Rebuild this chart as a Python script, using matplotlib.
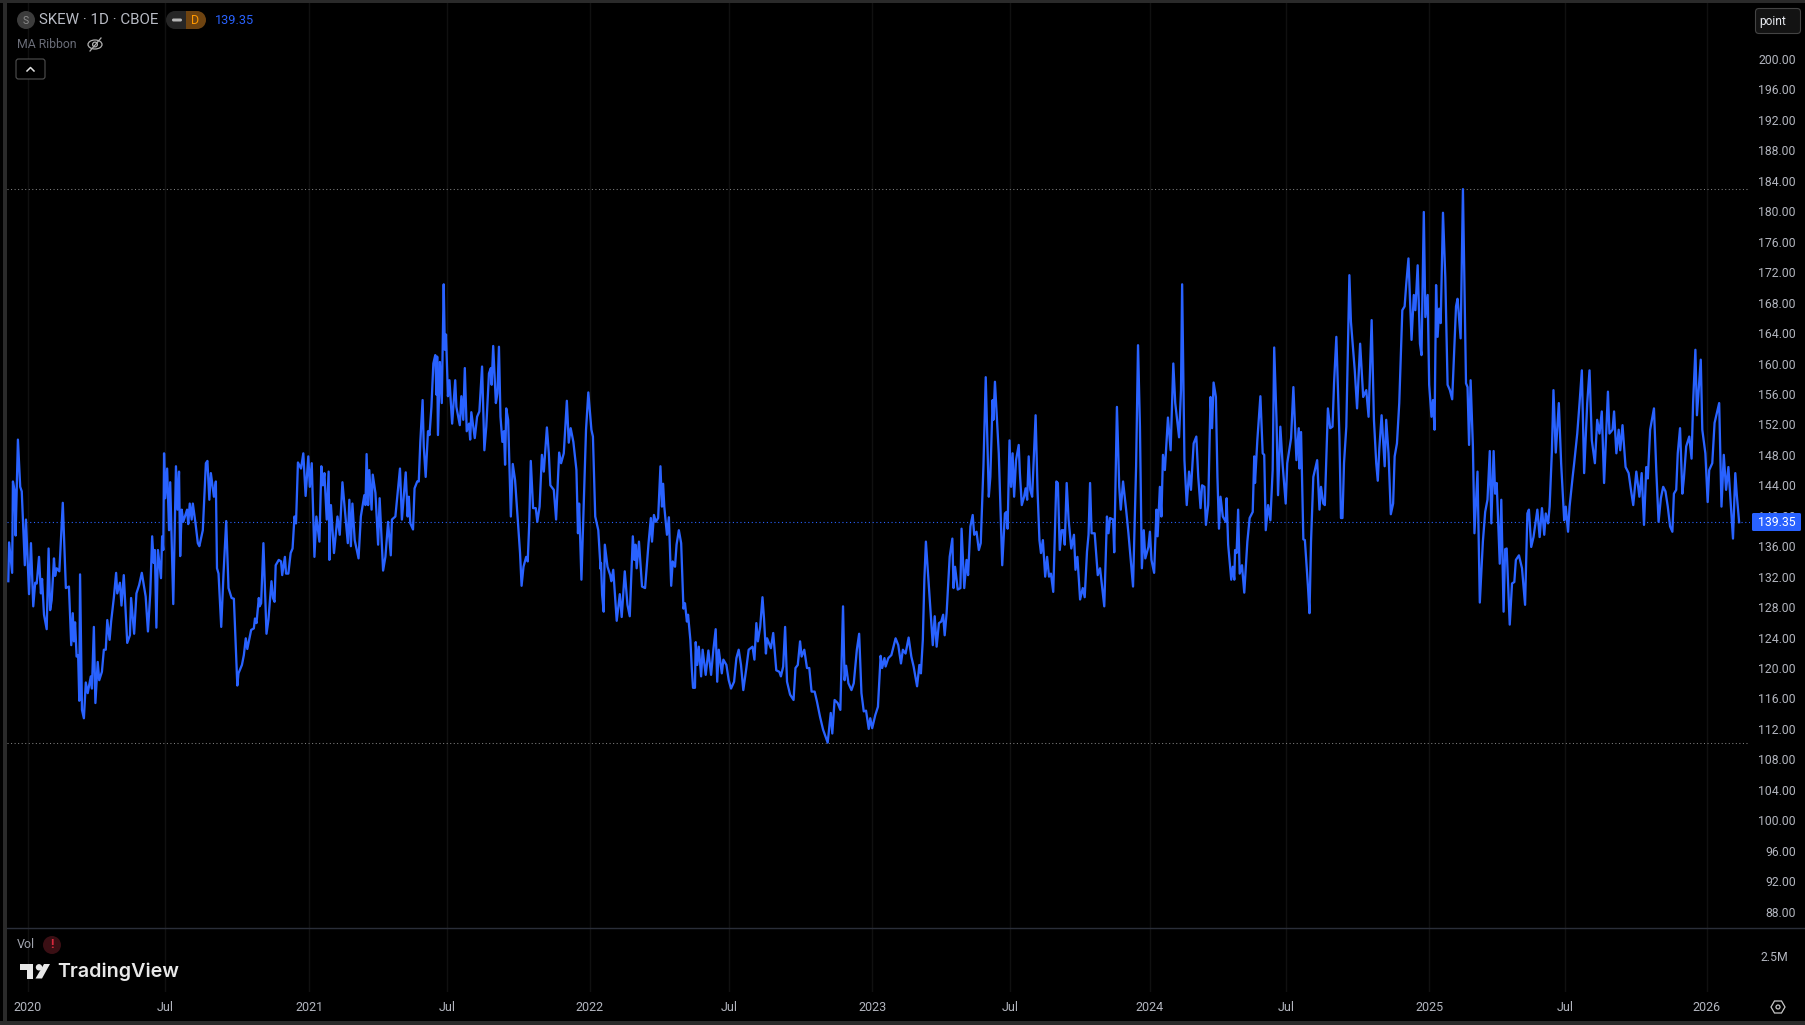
import matplotlib
matplotlib.use("Agg")
import matplotlib.pyplot as plt
from matplotlib.patches import Circle, Ellipse, FancyBboxPatch, Polygon, Rectangle

# (calendar days since 2020-01-01, SKEW close)
skew_2020_2021 = [
(-25,131.6),(-24,136.7),(-20,132.7),(-19,144.7),(-17,143.6),(-15.5,137.6),(-12.5,150.2),(-9.5,144.0),(-7.5,143.4),(-3.5,133.7),
(-2,139.7),(2,129.9),(4.5,136.6),(7.5,128.3),(10,131.4),(12,131.3),(15,134.8),(17.5,130.0),(19,131.9),(21.5,127.2),
(25,125.3),(27.5,135.9),(29.5,127.8),(31.5,129.1),(34.5,134.6),(36,132.3),(38,133.3),(41.5,132.9),(46,141.9),(50,130.7),
(54,130.9),(57,123.2),(59,127.4),(60.5,123.7),(62,126.2),(64,121.7),(66,121.9),(67.5,115.9),(68.5,132.5),(71,114.7),
(73.5,113.6),(76,118.3),(78.5,116.9),(80.5,118.0),(82.5,119.1),(84,117.5),(86.5,125.6),(88.5,115.6),(91.5,121.0),(93.5,118.6),
(97,119.7),(99.5,122.6),(102,122.6),(104,126.5),(107,123.9),(109,126.3),(112.5,129.4),(115.5,132.7),(117,130.0),(120.5,131.4),
(122.5,128.4),(125.5,132.4),(130,123.5),(133.5,124.5),(135,129.4),(139,124.7),(142,130.0),(145.5,131.1),(149,132.7),(154,129.6),
(157,125.0),(160,130.0),(162.5,137.5),(164.5,134.0),(166,135.7),(168,125.5),(170,135.7),(174,132.0),(175.5,137.5),(177,135.7),
(178,148.4),(179.5,142.5),(182,146.4),(184.5,138.3),(186,144.6),(190,128.6),(193.5,146.7),(195.5,141.0),(197.5,146.0),(199,134.9),
(201,141.0),(203,139.4),(208,141.0),(209.5,139.1),(211.5,141.8),(214,139.7),(215.5,141.8),(219,139.2),(222,136.6),(224,136.2),
(228.5,138.3),(232.5,147.1),(234.5,147.4),(237,142.3),(239,145.8),(243,142.7),(245.5,144.7),(247,133.3),(249,132.6),(252.5,125.6),
(255.5,132.6),(259,139.5),(262,130.7),(266,129.4),(269,129.3),(273.5,117.9),(275,119.5),(279.5,120.6),(282,121.9),(284.5,124.1),
(286.5,122.7),(291.5,125.2),(295,125.4),(296.5,126.7),(298.5,126.1),(301.5,129.4),(302.5,128.3),(304.5,128.7),(307.5,136.6),(311.5,124.7),
(314,126.5),(318,131.6),(320,129.4),(322,128.9),(323.5,133.7),(327.5,134.4),(330.5,134.2),(332,132.4),(335.5,134.8),(337,132.6),
(340,132.6),(343,135.3),(345.5,135.9),(348,140.1),(350,139.2),(352.5,147.2),(356.5,146.4),(359.5,148.4),(362.5,142.8),(366,148.0),
(368,144.0),(370.5,147.1),(374,134.8),(376.5,140.1),(380.5,136.8),(383,146.7),(385,144.2),(387,145.8),(390,139.7),(392.5,146.0),
(393.5,134.4),(395.5,141.6),(399.5,135.3),(404,140.1),(407,137.7),(410.5,144.6),(417.5,136.6),(419.5,142.3),(421.5,136.2),(423.5,141.8),
(426.5,137.0),(431.5,134.6),(434.5,140.1),(439,142.9),(440.5,141.6),(442,148.3),(444,141.6),(445.5,146.2),(448.5,141.0),(450,145.6),
(453.5,143.2),(457,136.4),(459,142.5),(463.5,133.0),(466.5,134.8),(470,139.4),(473.5,135.0),(475,139.7),(479.5,140.1),(485.5,146.4),
(488,139.7),(493,145.9),(495.5,140.1),(497,142.7),(499,139.2),(502.5,138.4),(504.5,143.8),(508,144.7),(510,144.7),(512,149.9),
(515,155.4),(516.5,149.3),(519,145.3),(522,151.3),(524,150.8),(526.5,154.5),(529,160.2),(531.5,161.3),(533,156.1),(534,161.1),
(535,150.8),(537.5,160.4),(540,155.0),(542.5,170.6),(544,162.0),(545.5,164.0),(548,155.9),(550,158.0),(553.5,152.3),(557.5,158.0),
(559,154.5),(563.5,152.1),(565.5,155.9),(568,152.8),(570,159.6),(572.5,151.3),(575.5,152.3),(577,150.2),(578.5,153.8),(583,150.4),
(586,153.2),(589,153.9),(592.5,159.8),(595.5,148.8),(598,151.9),(601.5,158.9),(604,159.6),(605,157.4),(607,162.5),(610.5,155.0),
(612.5,156.3),(614.5,162.4),(616.5,153.2),(619,149.9),(621,151.3),(622.5,146.9),(624,154.3),(626.5,152.8),(630,140.1),(632.5,147.0),
(635.5,144.9),(642,135.3),(644,131.0),(646.5,133.5),(650,134.8),(652,134.2),(654,139.2),(656,147.4),(659,141.2),(662.5,141.2),
(664.5,139.4),(667.5,141.4),(670.5,148.2),(673,146.0),(677,151.8),(679.5,148.4),(681.5,144.2),(686,143.6),(689,139.7),(693,148.5),
(695.5,147.1),(699,148.4),(703,155.3),(705.5,149.8),(708,151.7),(711.5,149.9),(715.5,146.2),(717.5,137.9),(719,141.8),(722,131.8),
(725.5,143.2),(728,151.5),(731,156.4),(735,151.5),(737,150.6),(740,140.1),(744,138.3),(747,133.2),
]
skew_2022_2023 = [
(747.5,134.0),(749,129.8),(751,127.6),(752.5,136.4),(756,133.5),(759.5,132.4),(761,131.6),(763.5,133.1),(768,126.4),(772,129.9),
(774.5,126.9),(778.5,132.9),(782,128.5),(785,127.0),(789,137.5),(791,134.4),(792.5,136.4),(794,133.3),(797,136.8),(801,130.9),
(805,130.7),(809.5,136.6),(812.5,139.9),(814,136.8),(816.5,140.3),(819,139.4),(822,139.9),(825,146.7),(827,141.4),(828.5,144.4),
(830,141.4),(833.5,137.7),(836,140.0),(839,131.0),(841,134.2),(844,133.5),(846,136.4),(849,138.3),(852,136.6),(855,128.0),
(857,128.7),(859.5,126.3),(861,127.2),(864,123.9),(866,119.9),(867.5,117.6),(870,117.6),(871,123.6),(873,120.6),(875,123.0),
(878,119.1),(880,122.6),(884,119.3),(887.5,122.5),(891,119.3),(894,122.6),(897,125.3),(899,118.4),(901,122.6),(905,119.5),
(907,121.3),(911,120.6),(914,118.6),(917,117.5),(921,118.4),(924,121.5),(927,122.6),(930,120.6),(933,117.3),(937,120.2),
(940,122.6),(945,123.0),(947.5,121.3),(950,126.1),(952,123.7),(955,125.6),(958,129.5),(960,126.7),(962.5,122.1),(964,124.1),
(969,122.8),(972,124.8),(976,119.9),(980,119.7),(982,119.1),(985,120.4),(987.5,125.6),(990,118.4),(994,116.7),(998.5,116.0),
(1001,120.2),(1004,120.6),(1007,123.7),(1009,121.7),(1012.5,122.6),(1016,120.2),(1019,120.2),(1022,117.1),(1026,117.1),(1029,115.8),
(1033,113.8),(1037,112.1),(1043,110.4),(1047,114.3),(1049,111.6),(1052,116.0),(1056,115.6),(1059.5,114.7),(1063,128.3),(1065,118.6),
(1067,120.5),(1070,118.2),(1074,117.3),(1077,118.2),(1081,122.6),(1084,124.7),(1087,116.9),(1090,114.5),(1093,114.6),(1096.5,112.2),
(1098.5,113.6),(1101,112.3),(1105,114.0),(1108.5,115.1),(1112,121.8),(1114,120.2),(1117,121.5),(1118.5,120.4),(1122,121.5),(1126,121.9),
(1130,123.5),(1131.5,124.1),(1135,123.2),(1138.5,120.8),(1141,122.6),(1144.5,122.1),(1148.5,124.2),(1152,121.7),(1155,120.4),(1159.5,117.8),
(1162.5,120.6),(1164.5,119.5),(1167,123.9),(1169,131.8),(1171,136.8),(1174,132.2),(1177,127.4),(1180,123.2),(1182.5,127.0),(1185,123.0),
(1188,126.1),(1191,126.3),(1193.5,127.2),(1195.5,124.5),(1198,127.4),(1202,134.8),(1205.5,137.2),(1207,130.7),(1209,133.5),(1212.5,130.5),
(1216,130.7),(1217.5,138.5),(1221,130.7),(1224,134.4),(1226,132.4),(1229,138.8),(1232,140.3),(1234,137.7),(1237,138.1),(1240,135.7),
(1242.5,136.6),(1246,146.7),(1249,158.4),(1253,142.7),(1255,145.3),(1258,155.4),(1259,152.8),(1261,157.8),(1266,148.4),(1270.5,133.7),
(1274,140.5),(1276,140.7),(1277.5,138.5),(1280,150.1),(1282,144.0),(1284,148.4),(1286,142.7),(1288.5,147.5),(1292,149.5),(1293.5,145.8),
(1296,141.6),(1299,142.7),(1301,143.8),(1303,142.3),(1305,148.0),(1307,143.6),(1309.5,142.7),(1314,153.4),(1316.5,143.6),(1319,137.0),
(1321,135.3),(1323.5,137.0),(1326.5,132.2),(1329,134.8),(1331.5,132.2),(1334,132.6),(1337,130.2),(1341,144.7),(1343,144.5),(1345.5,135.7),
(1348,138.3),(1350.5,138.3),(1352,136.4),(1354.5,144.5),(1357,139.7),(1360.5,135.9),(1364,137.7),(1366,133.1),(1368.5,134.8),(1372,129.2),
(1375.5,130.7),(1378,129.5),(1381,135.5),(1383,137.7),(1385,144.5),(1387,137.9),(1391,137.9),(1395,132.4),(1398,133.3),(1403.5,128.3),
(1407,140.1),(1409,137.9),(1411,139.9),(1415,139.7),(1416.5,135.4),(1420,154.5),(1423,144.0),(1425,141.0),(1428,144.7),(1432,141.0),
(1435,137.9),(1441,130.9),(1445,146.7),(1447.5,162.6),(1450,151.9),(1452.5,133.3),(1455,138.3),(1457,134.6),(1461,136.1),(1463,138.1),
(1465,134.4),(1468.5,132.7),(1471.5,141.0),(1473,137.5),(1476,144.0),(1478,140.1),(1480,148.2),(1482.5,146.2),(1486.5,153.1),(1490,148.8),
(1493.5,160.2),(1496,155.0),(1501,150.5),(1503.5,156.7),(1505,170.6),(1508,147.5),(1511,141.6),(1514,146.0),(1516.5,143.6),(1520,149.7),
(1523.5,150.6),(1526,145.3),(1529,141.2),
]
skew_2024_2026 = [
(1531,144.2),(1534,144.0),(1536,139.0),(1539,141.6),(1542,155.8),(1544,151.7),(1546,157.7),(1549,155.8),(1551,145.3),(1553,138.5),
(1555,142.7),(1558,140.1),(1562,139.4),(1563,142.5),(1565,136.4),(1569,131.8),(1571,133.5),(1573,131.8),(1574,135.7),(1576,135.3),
(1578,141.0),(1580,132.6),(1583,133.7),(1586,130.1),(1588,133.5),(1590,136.8),(1593,139.9),(1597,140.7),(1599,148.0),(1600,144.5),
(1603,150.1),(1607,155.9),(1610,148.4),(1612,148.2),(1614,138.3),(1617,141.6),(1620,139.6),(1623,146.2),(1625,162.3),(1628,152.8),
(1630,142.9),(1633,151.9),(1636,146.9),(1640,141.8),(1642,147.1),(1647,150.4),(1650,157.1),(1654,147.5),(1657,151.7),(1658,146.4),
(1660,151.2),(1663,137.1),(1665,137.0),(1669,130.9),(1671,127.4),(1673,136.8),(1676,145.3),(1681,147.5),(1684,141.0),(1686,144.0),
(1689,141.8),(1691,141.6),(1695,154.3),(1698,151.7),(1701,151.9),(1703,157.6),(1706,163.7),(1710,150.6),(1712,139.9),(1714,139.9),
(1716,147.1),(1719,151.9),(1723,171.8),(1725,165.7),(1730,159.3),(1733,154.3),(1737,162.8),(1741,155.8),(1745,156.7),(1748,153.2),
(1752,165.9),(1755,152.8),(1758,147.1),(1760,144.8),(1762,149.0),(1765,153.4),(1769,146.7),(1771,152.8),(1774,148.4),(1777,140.4),
(1780,141.8),(1782,148.0),(1785,149.7),(1788,155.0),(1792,167.2),(1795,167.7),(1797,170.5),(1800,174.0),(1804,163.3),(1807,169.2),
(1809,167.2),(1812,173.1),(1815,162.8),(1817,161.3),(1820,180.1),(1822,166.3),(1825,169.2),(1827,157.4),(1830,153.2),(1832,155.4),
(1834,151.5),(1836,170.5),(1838,163.7),(1840,167.4),(1842,165.5),(1845,180.0),(1848,171.6),(1851,157.4),(1854,156.7),(1857,155.5),
(1860,162.8),(1862,167.7),(1864,168.7),(1868,163.5),(1871,183.1),(1875,157.6),(1877,157.1),(1879,149.5),(1881,158.0),(1884,149.3),
(1886,137.9),(1890,146.0),(1893,128.8),(1897,136.8),(1900,140.7),(1903,142.3),(1906,148.7),(1908,139.2),(1911,148.7),(1913,143.1),
(1915,144.5),(1919,133.9),(1921,142.3),(1924,127.6),(1926,135.8),(1928,135.9),(1932,125.9),(1935,131.3),(1938,131.5),(1940,134.4),
(1944,135.0),(1948,133.3),(1952,128.5),(1955,140.5),(1957,141.0),(1960,136.1),(1963,137.4),(1968,141.0),(1971,137.4),(1974,141.2),
(1977,137.7),(1979,140.5),(1982,139.2),(1984,141.4),(1987,148.8),(1989,156.7),(1992,148.5),(1996,155.0),(1999,147.1),(2003,139.6),
(2005,141.4),(2008,138.1),(2010,141.4),(2014,145.3),(2016,147.1),(2020,151.0),(2023,155.0),(2026,159.3),(2029,145.8),(2033,155.0),
(2036,159.3),(2039,150.1),(2043,147.1),(2046,152.8),(2049,151.0),(2052,153.9),(2055,144.5),(2060,156.5),(2062,151.0),(2066,151.5),
(2068,153.9),(2071,148.4),(2074,151.5),(2076,148.8),(2079,152.1),(2083,146.6),(2087,145.8),(2090,143.6),(2093,141.6),(2097,146.0),
(2101,142.7),(2104,145.8),(2107,139.0),(2110,146.6),(2112,145.1),(2115,151.5),(2120,154.3),(2123,146.2),(2126,139.4),(2129,142.5),
(2132,144.0),(2135,143.4),(2138,141.4),(2141,138.8),(2144,138.1),(2146,143.1),(2149,143.6),(2151,148.4),(2154,151.7),(2157,143.1),
(2159,145.1),(2162,149.3),(2166,150.6),(2169,147.7),(2171,155.0),(2174,162.0),(2176,153.4),(2181,160.7),(2183,151.5),(2187,148.4),
(2190,142.0),(2192,146.2),(2196,147.1),(2199,152.4),(2205,155.0),(2208,141.4),(2211,148.2),(2214,143.6),(2217,146.6),(2220,141.8),
(2223,137.2),(2226,145.8),(2228,142.9),(2231,139.35),
]
time_tick_days = [0, 179, 367, 547, 733, 914, 1101, 1281, 1463, 1641, 1827, 2004, 2189]
time_tick_labels = ["2020", "Jul", "2021", "Jul", "2022", "Jul", "2023", "Jul", "2024", "Jul", "2025", "Jul", "2026"]
price_ticks = list(range(88, 201, 4))
last_price = 139.35
range_high = 183.08
range_low = 110.4

W, H = 1805, 1025
FONT = "Roboto"
BLUE = "#2962ff"
AXIS_TEXT = "#b2b5be"
plt.rcParams["font.family"] = [FONT, "DejaVu Sans"]

points = skew_2020_2021 + skew_2022_2023 + skew_2024_2026
days = [p[0] for p in points]
values = [p[1] for p in points]

fig = plt.figure(figsize=(W / 100, H / 100), dpi=100, facecolor="#000000")


def axes_px(x0, y0, x1, y1, **kw):
    return fig.add_axes([x0 / W, 1 - y1 / H, (x1 - x0) / W, (y1 - y0) / H], **kw)


XLIM = ((7 - 27.5) / 0.7672, (1750 - 27.5) / 0.7672)
GRID = "#101010"

ax = axes_px(7, 3, 1750, 928, facecolor="#000000")
ax.set_xlim(*XLIM)
ax.set_ylim(86.05, 207.55)
ax.plot(days, values, color=BLUE, lw=1.65, solid_joinstyle="round", zorder=3)
ax.axhline(range_high, color="#808080", lw=0.75, ls=(0, (1, 2.4)), zorder=2)
ax.axhline(range_low, color="#808080", lw=0.75, ls=(0, (1, 2.4)), zorder=2)
ax.axhline(last_price, color=BLUE, lw=0.8, ls=(0, (1, 2.4)), zorder=2)
ax.set_xticks(time_tick_days)
ax.set_xticklabels([])
ax.grid(axis="x", color=GRID, lw=1)
ax.set_axisbelow(True)
ax.yaxis.tick_right()
ax.set_yticks(price_ticks)
ax.set_yticklabels([f"{v:.2f}" for v in price_ticks], ha="right", va="center", color=AXIS_TEXT, fontsize=8.8)
ax.tick_params(axis="y", length=0, pad=33)
ax.tick_params(axis="x", length=0)
for s in ax.spines.values():
    s.set_visible(False)

vol = axes_px(7, 928, 1750, 992, facecolor="#000000")
vol.set_xlim(*XLIM)
vol.set_ylim(0, 1)
vol.set_xticks(time_tick_days)
vol.set_xticklabels(time_tick_labels, color=AXIS_TEXT, fontsize=9)
vol.tick_params(axis="x", length=0, pad=6.3)
vol.set_yticks([])
vol.grid(axis="x", color=GRID, lw=1)
for s in vol.spines.values():
    s.set_visible(False)

# Overlay for the terminal chrome, in screen pixels
ov = axes_px(0, 0, W, H)
ov.set_xlim(0, W)
ov.set_ylim(H, 0)
ov.axis("off")
ov.patch.set_alpha(0)

# frame
ov.add_patch(Rectangle((0, 0), W, 3, fc="#2a2a2a", ec="none"))
ov.add_patch(Rectangle((3, 0), 4, H, fc="#2a2a2a", ec="none"))
ov.add_patch(Rectangle((0, 1021), W, 4, fc="#2a2a2a", ec="none"))
ov.plot([7, W], [928, 928], color="#2a2e39", lw=1)

# legend block
ov.add_patch(Circle((26, 20), 9, fc="#3c3c3c", ec="none"))
ov.text(26, 20.5, "S", color="#8c8c8c", fontsize=7.5, ha="center", va="center")
ov.text(39, 20, "SKEW · 1D · CBOE", color="#b8bbc4", fontsize=10.9, va="center")
ov.add_patch(Circle((175, 20), 9, fc="#262626", ec="none"))
ov.add_patch(Rectangle((175, 11), 11, 18, fc="#262626", ec="none"))
ov.add_patch(Rectangle((186, 11), 11, 18, fc="#6e4310", ec="none"))
ov.add_patch(Circle((197, 20), 9, fc="#6e4310", ec="none"))
ov.add_patch(FancyBboxPatch((172, 18.5), 10, 3, boxstyle="round,pad=0,rounding_size=1.5", fc="#b5b5b5", ec="none"))
ov.text(195, 20.5, "D", color="#ff9800", fontsize=9, ha="center", va="center")
ov.text(215, 20.5, "139.35", color=BLUE, fontsize=9.2, va="center")
ov.text(17, 44.5, "MA Ribbon", color="#6a6d78", fontsize=8.85, va="center")
# hidden-eye icon
ov.add_patch(Ellipse((95, 44.5), 14, 9, fc="none", ec="#b0b0b0", lw=0.9))
ov.add_patch(Circle((95, 44.5), 2.4, fc="none", ec="#b0b0b0", lw=0.9))
ov.plot([90, 101], [51, 38], color="#b0b0b0", lw=0.9)
# collapse button
ov.add_patch(FancyBboxPatch((16, 59), 29, 20, boxstyle="round,pad=0,rounding_size=2.5", fc="#000000", ec="#505050", lw=0.8))
ov.plot([27, 30.5, 34], [71, 67.5, 71], color="#e0e0e0", lw=1.1)

# "point" button
ov.add_patch(FancyBboxPatch((1755.5, 8.5), 45, 25, boxstyle="round,pad=0,rounding_size=3.5", fc="#131313", ec="#444444", lw=0.8))
ov.text(1759, 21, "point", color="#e8eaf0", fontsize=8.6, va="center")

# last price label
ov.add_patch(FancyBboxPatch((1752, 513), 49, 18, boxstyle="round,pad=0,rounding_size=1.5", fc=BLUE, ec="none"))
ov.text(1796, 522, f"{last_price:.2f}", color="#ffffff", fontsize=8.8, ha="right", va="center")

# volume pane
ov.text(17, 945, "Vol", color="#a0a3ad", fontsize=9, va="center")
ov.add_patch(Circle((52, 945), 9, fc="#3a0f14", ec="none"))
ov.text(52, 945, "!", color="#d8283c", fontsize=9.5, weight="bold", ha="center", va="center")
ov.text(1788, 957.5, "2.5M", color=AXIS_TEXT, fontsize=8.8, ha="right", va="center")

# TradingView logo
LOGO = "#e8e8e8"
ov.add_patch(Polygon([(19.5, 964), (33, 964), (33, 978.5), (27, 978.5), (27, 970), (19.5, 970)], fc=LOGO, ec="none"))
ov.add_patch(Circle((39, 967.3), 3.2, fc=LOGO, ec="none"))
ov.add_patch(Polygon([(44, 964), (50, 964), (42, 978.5), (35.5, 978.5)], fc=LOGO, ec="none"))
ov.text(57, 971.5, "TradingView", color=LOGO, fontsize=14.2, family="Inter", weight="semibold", va="center")

# settings hexagon
ov.add_patch(Polygon([(1771, 1007), (1774.5, 1001), (1781.5, 1001), (1785, 1007), (1781.5, 1013), (1774.5, 1013)],
                     fc="none", ec="#c8c8c8", lw=0.9))
ov.add_patch(Circle((1778, 1007), 2, fc="none", ec="#c8c8c8", lw=0.9))

fig.savefig("out.png", dpi=100, facecolor=fig.get_facecolor())
